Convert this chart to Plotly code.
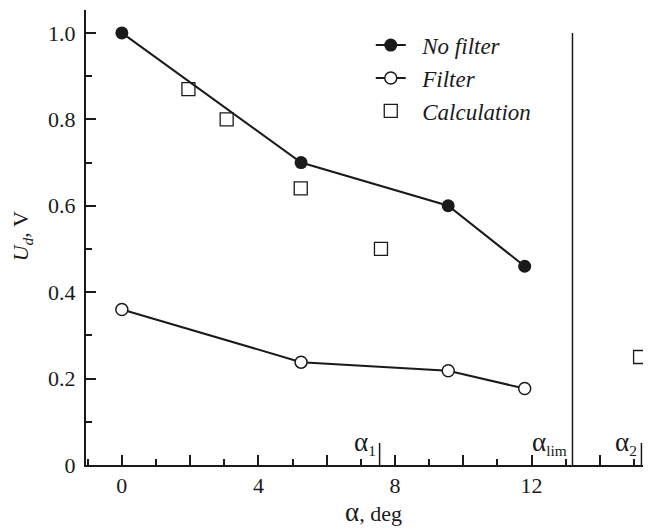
import plotly.graph_objects as go

# Data
nofilter_x = [0, 5.25, 9.56, 11.8]
nofilter_y = [1.0, 0.70, 0.60, 0.46]
filter_x = [0, 5.25, 9.56, 11.8]
filter_y = [0.36, 0.238, 0.218, 0.177]
calc_x = [1.95, 3.07, 5.24, 7.59, 15.18]
calc_y = [0.87, 0.80, 0.64, 0.50, 0.25]
alpha_marks_x = [7.55, 15.22]
alpha_marks_sub = ["1", "2"]
alpha_lim = 13.2
x_tickvals = [0, 2, 4, 6, 8, 10, 12, 14]
x_ticktext = ["0", "", "4", "", "8", "", "12", ""]
y_tickvals = [0, 0.2, 0.4, 0.6, 0.8, 1.0]
y_ticktext = ["0", "0.2", "0.4", "0.6", "0.8", "1.0"]

FONT = "Liberation Serif"
INK = "#1a1a1a"
SP = "\u2002"
ALPHA = "<span style='font-size:27px'>α</span>"

fig = go.Figure()
fig.add_trace(go.Scatter(x=nofilter_x, y=nofilter_y, mode="lines+markers", name=SP + "No filter",
                         line=dict(color=INK, width=2),
                         marker=dict(symbol="circle", size=13, color=INK)))
fig.add_trace(go.Scatter(x=filter_x, y=filter_y, mode="lines+markers", name=SP + "Filter",
                         line=dict(color=INK, width=2),
                         marker=dict(symbol="circle", size=12, color="white",
                                     line=dict(color=INK, width=1.5))))
fig.add_trace(go.Scatter(x=calc_x, y=calc_y, mode="markers", name=SP + "Calculation",
                         marker=dict(symbol="square-open", size=13, color=INK,
                                     line=dict(width=1.3))))

# alpha_lim vertical line
fig.add_shape(type="line", x0=alpha_lim, x1=alpha_lim, y0=0, y1=1.0, xref="x", yref="y",
              line=dict(color=INK, width=1.5))
# tall ticks for alpha1, alpha2
for xv in alpha_marks_x:
    fig.add_shape(type="line", x0=xv, x1=xv, y0=0, y1=0.051, xref="x", yref="y",
                  line=dict(color=INK, width=1.5))
for xv, s in zip(alpha_marks_x, alpha_marks_sub):
    fig.add_annotation(x=xv, y=0.01, xref="x", yref="y", text=ALPHA + "<sub>" + s + "</sub>",
                       showarrow=False, xanchor="right", yanchor="bottom", xshift=-2,
                       font=dict(family=FONT, size=22, color=INK))
fig.add_annotation(x=alpha_lim, y=0.01, xref="x", yref="y", text=ALPHA + "<sub>lim</sub>", showarrow=False,
                   xanchor="right", yanchor="bottom", xshift=-3,
                   font=dict(family=FONT, size=22, color=INK))

# axis titles
fig.add_annotation(x=-0.113, y=0.503, xref="paper", yref="paper", text="<i>U<sub>d</sub></i>, V",
                   showarrow=False, textangle=-90, xanchor="center", yanchor="middle",
                   font=dict(family=FONT, size=22, color=INK))
fig.add_annotation(x=0.508, y=-0.104, xref="paper", yref="paper", text=ALPHA + ", deg",
                   showarrow=False, xanchor="center", yanchor="middle",
                   font=dict(family=FONT, size=22, color=INK))

# page body has an 8px margin, so the figure is drawn 8px smaller and offset
fig.update_layout(
    width=643, height=522,
    margin=dict(l=78, r=0, t=2, b=65),
    paper_bgcolor="white", plot_bgcolor="white",
    font=dict(family=FONT, size=22, color=INK),
    showlegend=True,
    legend=dict(x=0.504, y=0.97, xanchor="left", yanchor="top",
                bgcolor="rgba(0,0,0,0)", borderwidth=0,
                font=dict(family=FONT, size=23, style="italic", color=INK),
                tracegroupgap=0),
)
fig.update_xaxes(range=[-1.05, 15.5], showgrid=False, zeroline=False, automargin=False,
                 showline=True, linecolor=INK, linewidth=2,
                 tickvals=x_tickvals, ticktext=x_ticktext,
                 ticks="inside", ticklen=10, tickwidth=1.5, tickcolor=INK,
                 minor=dict(dtick=1, tick0=0, ticks="inside", ticklen=6, tickwidth=1.5, tickcolor=INK),
                 tickfont=dict(family=FONT, size=22, color=INK))
fig.update_yaxes(range=[0, 1.053], showgrid=False, zeroline=False, automargin=False,
                 showline=True, linecolor=INK, linewidth=2,
                 tickvals=y_tickvals, ticktext=y_ticktext,
                 ticks="inside", ticklen=10, tickwidth=1.5, tickcolor=INK,
                 ticklabelstandoff=4,
                 minor=dict(dtick=0.1, tick0=0, ticks="inside", ticklen=6, tickwidth=1.5, tickcolor=INK),
                 tickfont=dict(family=FONT, size=22, color=INK))

fig.write_html("out.html")
